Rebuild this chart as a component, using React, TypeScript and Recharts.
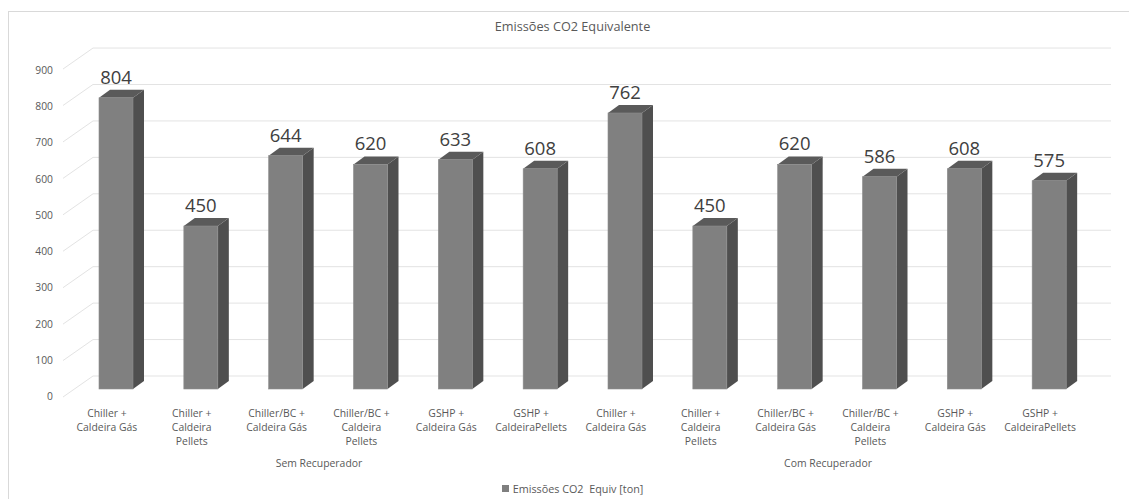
import { BarChart, Bar, XAxis, YAxis, CartesianGrid, Legend, LabelList } from 'recharts'

const categories = [
    'Chiller + Caldeira Gás',
    'Chiller + Caldeira Pellets',
    'Chiller/BC + Caldeira Gás',
    'Chiller/BC + Caldeira Pellets',
    'GSHP + Caldeira Gás',
    'GSHP + CaldeiraPellets',
    'Chiller + Caldeira Gás',
    'Chiller + Caldeira Pellets',
    'Chiller/BC + Caldeira Gás',
    'Chiller/BC + Caldeira Pellets',
    'GSHP + Caldeira Gás',
    'GSHP + CaldeiraPellets',
]
const tickLines = [
    ['Chiller +', 'Caldeira Gás'],
    ['Chiller +', 'Caldeira', 'Pellets'],
    ['Chiller/BC +', 'Caldeira Gás'],
    ['Chiller/BC +', 'Caldeira', 'Pellets'],
    ['GSHP +', 'Caldeira Gás'],
    ['GSHP +', 'CaldeiraPellets'],
    ['Chiller +', 'Caldeira Gás'],
    ['Chiller +', 'Caldeira', 'Pellets'],
    ['Chiller/BC +', 'Caldeira Gás'],
    ['Chiller/BC +', 'Caldeira', 'Pellets'],
    ['GSHP +', 'Caldeira Gás'],
    ['GSHP +', 'CaldeiraPellets'],
]
const groups = ['Sem Recuperador', 'Com Recuperador']
const emissions = [804, 450, 644, 620, 633, 608, 762, 450, 620, 586, 608, 575]
const yTicks = [0, 100, 200, 300, 400, 500, 600, 700, 800, 900]

const data = categories.map((c, i) => ({
    name: c,
    idx: i,
    value: emissions[i],
}))

const FONT = '"Open Sans", "Noto Sans", sans-serif'
const W = 1129
const H = 499
const MARGIN = { top: 63, right: 37, bottom: 0, left: 0 }
const Y_AXIS_W = 74
const X_AXIS_H = 110
const BAND = (W - MARGIN.right - Y_AXIS_W) / categories.length
// 3d depth of bars and back wall
const DEPTH_X = 11
const DEPTH_Y = 8
const WALL_X = 19
const WALL_Y = 13

const Bar3D = (props: any) => {
    const { x, y, width, height } = props
    const front = '#808080'
    const side = '#4f4f4f'
    const top = '#5a5a5a'
    return (
        <g>
            <polygon
                points={`${x + width},${y} ${x + width + DEPTH_X},${y - DEPTH_Y} ${x + width + DEPTH_X},${y + height - DEPTH_Y} ${x + width},${y + height}`}
                fill={side}
            />
            <polygon
                points={`${x},${y} ${x + DEPTH_X},${y - DEPTH_Y} ${x + width + DEPTH_X},${y - DEPTH_Y} ${x + width},${y}`}
                fill={top}
            />
            <rect x={x} y={y} width={width} height={height} fill={front} stroke="#8c8c8c" strokeWidth={0.6} />
        </g>
    )
}

const gridLine = (props: any) => {
    const { x1, x2, y1, index } = props
    const bottom = MARGIN.top + 326
    const by = y1 - WALL_Y - (bottom - y1) * 0.006
    return (
        <g key={`grid-${index}-${y1}`}>
            <line x1={x1 + WALL_X} x2={x2 + WALL_X} y1={by} y2={by} stroke="#e3e3e3" strokeWidth={1} />
            <line x1={x1 + WALL_X - 30} y1={by + 21} x2={x1 + WALL_X} y2={by} stroke="#e3e3e3" strokeWidth={1} />
        </g>
    )
}

const YTick = (props: any) => {
    const { y, payload } = props
    return (
        <text x={53} y={y + 7} textAnchor="end" dominantBaseline="central" fill="#595959" fontSize={10.3} fontFamily={FONT}>
            {payload.value}
        </text>
    )
}

const XTick = (props: any) => {
    const { x, y, index } = props
    const lines = tickLines[index] || []
    const cx = x - 9.5
    return (
        <g>
            {lines.map((l, i) => (
                <text key={i} x={cx} y={y + 15.5 + i * 14} textAnchor="middle" dominantBaseline="central" fill="#595959" fontSize={10.4} fontFamily={FONT}>
                    {l}
                </text>
            ))}
            {index % 6 === 2 && (
                <text x={cx + BAND / 2} y={y + 66} textAnchor="middle" dominantBaseline="central" fill="#595959" fontSize={10.4} fontFamily={FONT}>
                    {groups[Math.floor(index / 6)]}
                </text>
            )}
        </g>
    )
}

const ValueLabel = (props: any) => {
    const { x, y, width, value } = props
    return (
        <text x={x + width / 2} y={y - 14} textAnchor="middle" fill="#404040" fontSize={18.5} fontFamily={FONT}>
            {value}
        </text>
    )
}

const LegendContent = () => (
    <div style={{ display: 'flex', justifyContent: 'center', alignItems: 'center', fontFamily: FONT, fontSize: 10.8, color: '#595959' }}>
        <span style={{ display: 'inline-block', width: 7, height: 7, background: '#7f7f7f', marginRight: 4 }} />
        <span style={{ whiteSpace: 'pre' }}>Emissões CO2  Equiv [ton]</span>
    </div>
)

export default function App() {
    return (
        <div style={{ position: 'absolute', left: 0, top: 0, width: W, height: H, background: '#fff', overflow: 'hidden' }}>
            <div style={{ position: 'absolute', left: 8, top: 11, right: 0, bottom: -2, borderTop: '1px solid #d9d9d9', borderLeft: '1px solid #d9d9d9' }} />
            <div style={{
                position: 'absolute',
                left: 0,
                width: W,
                top: 17,
                textAlign: 'center',
                fontFamily: FONT,
                fontSize: 12.7,
                color: '#595959',
                paddingLeft: 16,
                boxSizing: 'border-box',
            }}>
                Emissões CO2 Equivalente
            </div>
            <div style={{ position: 'absolute', left: 0, top: 0 }}>
                <BarChart width={W} height={H} data={data} margin={MARGIN} barSize={34}>
                    <CartesianGrid horizontal={gridLine} vertical={false} />
                    <XAxis
                        dataKey="idx"
                        height={X_AXIS_H}
                        axisLine={false}
                        tickLine={false}
                        interval={0}
                        tick={<XTick />}
                    />
                    <YAxis
                        domain={[0, 900]}
                        ticks={yTicks}
                        width={Y_AXIS_W}
                        axisLine={false}
                        tickLine={false}
                        tick={<YTick />}
                    />
                    <Legend
                        layout="horizontal"
                        verticalAlign="middle"
                        align="center"
                        wrapperStyle={{ top: 481, left: 16, width: W - 16 }}
                        content={<LegendContent />}
                    />
                    <Bar dataKey="value" name="Emissões CO2  Equiv [ton]" shape={<Bar3D />} isAnimationActive={false}>
                        <LabelList dataKey="value" content={<ValueLabel />} />
                    </Bar>
                </BarChart>
            </div>
        </div>
    )
}
